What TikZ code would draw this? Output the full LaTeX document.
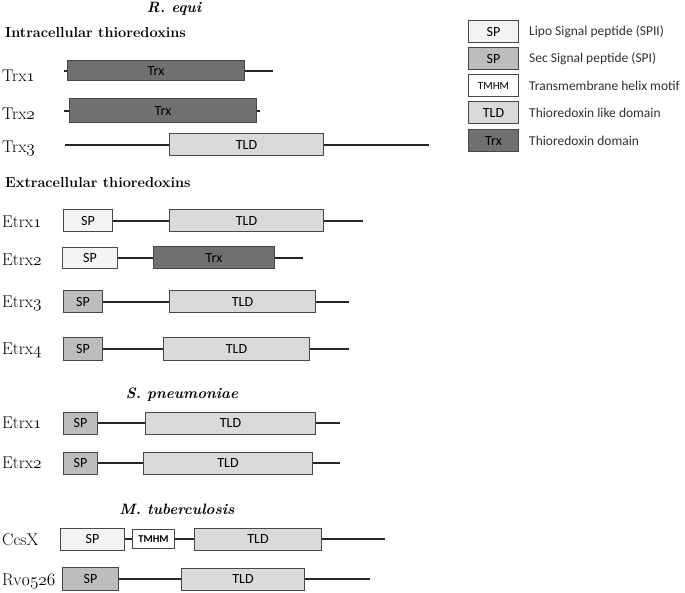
\documentclass[tikz,border=0pt]{standalone}
\usepackage{fontspec}
\newfontfamily\carlito{Carlito}
\newcommand\osn[1]{$\mathnormal{#1}$}
\definecolor{lipofill}{HTML}{F3F3F3}
\definecolor{secfill}{HTML}{BDBDBD}
\definecolor{tldfill}{HTML}{D9D9D9}
\definecolor{trxfill}{HTML}{707070}
\definecolor{rim}{HTML}{474747}
\definecolor{keytext}{HTML}{303030}

\tikzset{
    lab/.style={anchor=west, inner sep=0pt, font=\fontsize{17}{19}\selectfont},
    hdr/.style={anchor=west, inner sep=0pt, font=\fontsize{14.5}{17}\selectfont\bfseries},
    org/.style={inner sep=0pt, font=\fontsize{15}{17}\selectfont\bfseries\itshape},
    dom/.style={draw=rim, line width=1pt, minimum height=22, inner sep=0pt, anchor=west,
        font=\fontsize{14}{16}\selectfont\carlito},
    lipo/.style={dom, fill=lipofill},
    sec/.style={dom, fill=secfill},
    tmhm/.style={dom, fill=white},
    tld/.style={dom, fill=tldfill},
    trx/.style={dom, fill=trxfill},
    key/.style={anchor=west, inner sep=0pt, text=keytext, font=\fontsize{13.5}{15}\selectfont\carlito},
    bb/.style={line width=1.8pt, draw=black!85}
}

\begin{document}
\begin{tikzpicture}[x=1pt, y=-1pt]
    \useasboundingbox (0,0) rectangle (685,593);
    % R. equi, intracellular
    \path node[org] (RE) at (174,9) {R. equi}
        node[hdr] (IN) at (5,33) {Intracellular thioredoxins}
        node[lab] (T1) at (2,76) {Trx\osn{1}}
        node[lab] (T2) at (2,114) {Trx\osn{2}}
        node[lab] (T3) at (2,148) {Trx\osn{3}}
        node[trx, minimum width=177, minimum height=20] (T1trx) at (67,71) {Trx}
        node[trx, minimum width=187, minimum height=24] (T2trx) at (69,111) {Trx}
        node[tld, minimum width=154] (T3tld) at (169,145) {TLD};
    \coordinate (T1a) at (64,71);  \coordinate (T1b) at (273,71);
    \coordinate (T2a) at (64,111); \coordinate (T2b) at (260,111);
    \coordinate (T3a) at (65,145); \coordinate (T3b) at (429,145);
    \draw[bb] (T1a) -- (T1trx.west) (T1trx.east) -- (T1b);
    \draw[bb] (T2a) -- (T2trx.west) (T2trx.east) -- (T2b);
    \draw[bb] (T3a) -- (T3tld.west) (T3tld.east) -- (T3b);

    % R. equi, extracellular
    \path node[hdr] (EX) at (5,183) {Extracellular thioredoxins}
        node[lab] (E1) at (2,222) {Etrx\osn{1}}
        node[lab] (E2) at (2,260) {Etrx\osn{2}}
        node[lab] (E3) at (2,303) {Etrx\osn{3}}
        node[lab] (E4) at (2,350) {Etrx\osn{4}}
        node[lipo, minimum width=49] (E1sp) at (63,221) {SP}
        node[tld, minimum width=154] (E1tld) at (169,221) {TLD}
        node[lipo, minimum width=55, minimum height=21] (E2sp) at (62,258) {SP}
        node[trx, minimum width=121] (E2trx) at (153,258) {Trx}
        node[sec, minimum width=39] (E3sp) at (63,302) {SP}
        node[tld, minimum width=146] (E3tld) at (169,302) {TLD}
        node[sec, minimum width=39] (E4sp) at (63,349) {SP}
        node[tld, minimum width=146] (E4tld) at (163,349) {TLD};
    \coordinate (E1b) at (363,221);
    \coordinate (E2b) at (303,258);
    \coordinate (E3b) at (349,302);
    \coordinate (E4b) at (349,349);
    \draw[bb] (E1sp) -- (E1tld) (E1tld.east) -- (E1b);
    \draw[bb] (E2sp) -- (E2trx) (E2trx.east) -- (E2b);
    \draw[bb] (E3sp) -- (E3tld) (E3tld.east) -- (E3b);
    \draw[bb] (E4sp) -- (E4tld) (E4tld.east) -- (E4b);

    % S. pneumoniae
    \path node[org] (SPN) at (182,395) {S. pneumoniae}
        node[lab] (S1) at (2,423) {Etrx\osn{1}}
        node[lab] (S2) at (2,463) {Etrx\osn{2}}
        node[sec, minimum width=34] (S1sp) at (63,423) {SP}
        node[tld, minimum width=170] (S1tld) at (145,423) {TLD}
        node[sec, minimum width=34] (S2sp) at (63,463) {SP}
        node[tld, minimum width=169] (S2tld) at (143,463) {TLD};
    \coordinate (S1b) at (340,423);
    \coordinate (S2b) at (340,463);
    \draw[bb] (S1sp) -- (S1tld) (S1tld.east) -- (S1b);
    \draw[bb] (S2sp) -- (S2tld) (S2tld.east) -- (S2b);

    % M. tuberculosis
    \path node[org] (MTB) at (177,509) {M. tuberculosis}
        node[lab] (M1) at (2,540) {CcsX}
        node[lab] (M2) at (2,581) {Rv\osn{0526}}
        node[lipo, minimum width=64] (M1sp) at (60,539) {SP}
        node[tmhm, minimum width=42, minimum height=19, font=\fontsize{10.5}{12}\selectfont\carlito\bfseries] (M1tm) at (132,539) {TMHM}
        node[tld, minimum width=127] (M1tld) at (194,539) {TLD}
        node[sec, minimum width=56, minimum height=23] (M2sp) at (62,579) {SP}
        node[tld, minimum width=123] (M2tld) at (181,579) {TLD};
    \coordinate (M1b) at (385,539);
    \coordinate (M2b) at (370,579);
    \draw[bb] (M1sp) -- (M1tm) (M1tm) -- (M1tld) (M1tld.east) -- (M1b);
    \draw[bb] (M2sp) -- (M2tld) (M2tld.east) -- (M2b);

    % legend
    \path node[lipo, minimum width=50] (K1) at (468,32) {SP}
        node[sec, minimum width=50] (K2) at (468,59) {SP}
        node[tmhm, minimum width=50, font=\fontsize{11}{12}\selectfont\carlito] (K3) at (468,86) {TMHM}
        node[tld, minimum width=50] (K4) at (468,113) {TLD}
        node[trx, minimum width=50] (K5) at (468,141) {Trx}
        node[key] (K1t) at (529,32) {Lipo Signal peptide (SPII)}
        node[key] (K2t) at (529,59) {Sec Signal peptide (SPI)}
        node[key] (K3t) at (529,86) {Transmembrane helix motif}
        node[key] (K4t) at (529,113) {Thioredoxin like domain}
        node[key] (K5t) at (529,141) {Thioredoxin domain};
\end{tikzpicture}
\end{document}
